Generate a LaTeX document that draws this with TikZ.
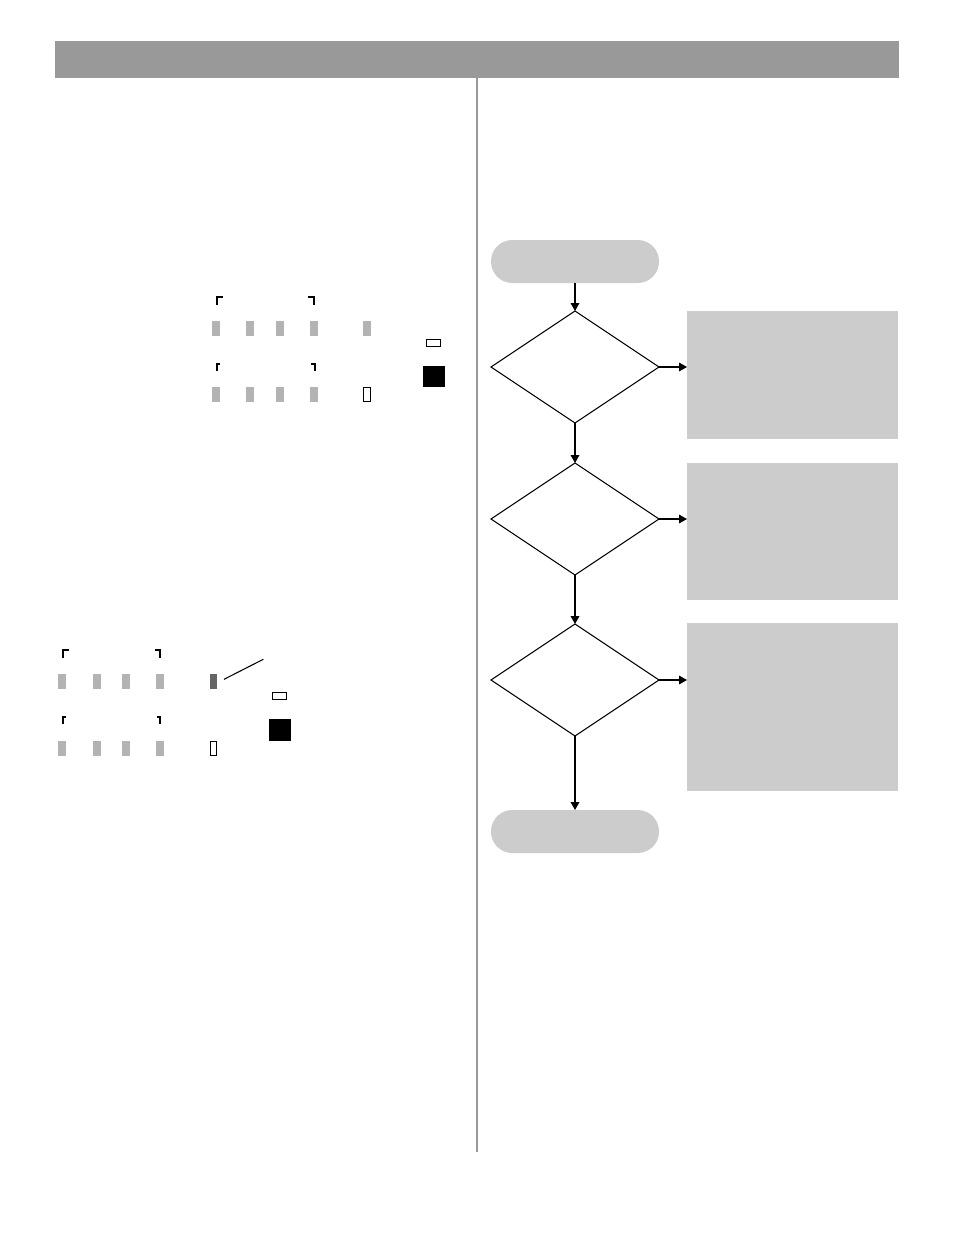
\documentclass[tikz,border=0pt]{standalone}
\usetikzlibrary{shapes.geometric,arrows.meta}
\definecolor{hdr}{HTML}{999999}
\definecolor{lgray}{HTML}{CCCCCC}
\definecolor{bargray}{HTML}{B3B3B3}
\definecolor{darkbar}{HTML}{666666}
\tikzset{
  terminal/.style={fill=lgray, draw=none, rounded corners=21.3*0.75pt},
  decision/.style={draw=black, line width=0.75pt, fill=white},
  notebox/.style={fill=lgray, draw=none},
  flow/.style={draw=black, line width=1pt, -{Triangle[length=6pt,width=6.5pt]}},
  plainflow/.style={draw=black, line width=1pt},
  led/.style={fill=bargray, draw=none},
  ledon/.style={fill=darkbar, draw=none},
  ledoff/.style={draw=black, line width=0.75pt, fill=white},
  blk/.style={fill=black, draw=none},
  brk/.style={draw=black, line width=1.5pt},
}
\begin{document}
\begin{tikzpicture}[x=0.75pt,y=-0.75pt]
\useasboundingbox[fill=white] (0,0) rectangle (954,1235);
% header bar and divider
\fill[hdr] (55,41) rectangle (899,78);
\fill[hdr] (476,78) rectangle (478,1152);

% ---------------- flowchart ----------------
\path[terminal] (491,240) rectangle (659,283);
\coordinate (startb) at (575,283);
\path[decision] (575,311) coordinate (d1t) -- (659,367) coordinate (d1r) -- (575,423) coordinate (d1b) -- (491,367) -- cycle;
\path[decision] (575,463) coordinate (d2t) -- (659,519) coordinate (d2r) -- (575,575) coordinate (d2b) -- (491,519) -- cycle;
\path[decision] (575,624) coordinate (d3t) -- (659,680) coordinate (d3r) -- (575,736) coordinate (d3b) -- (491,680) -- cycle;
\path[terminal] (491,810) rectangle (659,853);
\coordinate (endt) at (575,810);
\path[notebox] (687,311) rectangle (898,439);
\path[notebox] (687,463) rectangle (898,600);
\path[notebox] (687,623) rectangle (898,791);
\coordinate (b1) at (687,367);
\coordinate (b2) at (687,519);
\coordinate (b3) at (687,680);

\draw[flow] (startb) -- (d1t);
\draw[flow] (d1r) -- (b1);
\draw[flow] (d1b) -- (d2t);
\draw[flow] (d2r) -- (b2);
\draw[flow] (d2b) -- (d3t);
\draw[flow] (d3r) -- (b3);
\draw[flow] (d3b) -- (endt);

% ---------------- upper display ----------------
\draw[brk] (217,305) -- (217,297) -- (223,297);
\draw[brk] (308,297) -- (314,297) -- (314,305);
\foreach \x in {212.3,246,276,310,363} \fill[led] (\x,321) rectangle ++(7.7,15);
\draw[ledoff] (426.3,339.3) rectangle (440.7,346.7);
\fill[blk] (423,366) rectangle (445,387);
\draw[brk] (217,371) -- (217,364) -- (220,364);
\draw[brk] (311,364) -- (314.5,364) -- (314.5,371);
\foreach \x in {212.3,246,276,310} \fill[led] (\x,386.7) rectangle ++(7.7,15);
\draw[ledoff] (363.6,387.2) rectangle (370.4,401.2);

% ---------------- lower display ----------------
\draw[brk] (63,658) -- (63,650) -- (69,650);
\draw[brk] (155,650) -- (160,650) -- (160,658);
\foreach \x in {58,93,122,156} \fill[led] (\x,674) rectangle ++(7.7,15);
\fill[ledon] (210,674) rectangle (217,689);
\draw[line width=0.8pt] (224,679.3) -- (263.3,659.3);
\draw[ledoff] (272.6,692.6) rectangle (286.4,699.4);
\fill[blk] (269,719) rectangle (290.7,740.7);
\draw[brk] (63,724) -- (63,717) -- (65.5,717);
\draw[brk] (157,717) -- (160,717) -- (160,724);
\foreach \x in {58,93,122,156} \fill[led] (\x,740.7) rectangle ++(7.7,15);
\draw[ledoff] (210.6,741) rectangle (216.4,755.4);
\end{tikzpicture}
\end{document}
